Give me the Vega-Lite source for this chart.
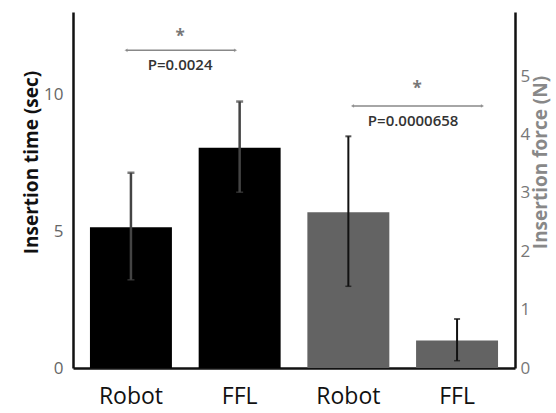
{
  "$schema": "https://vega.github.io/schema/vega-lite/v6.json",
  "width": 442,
  "height": 356,
  "autosize": "none",
  "padding": {"left": 73, "top": 12, "right": 41, "bottom": 45},
  "config": {
    "view": {"stroke": null},
    "font": "Open Sans",
    "axis": {"grid": false, "ticks": false, "domainColor": "#111", "domainWidth": 2.5}
  },
  "datasets": {
    "bars": [
      {"key": "time|Robot", "group": "time", "mean": 5.14, "lo": 3.22, "hi": 7.13},
      {"key": "time|FFL", "group": "time", "mean": 8.04, "lo": 6.42, "hi": 9.73},
      {"key": "force|Robot", "group": "force", "mean": 2.67, "lo": 1.4, "hi": 3.97},
      {"key": "force|FFL", "group": "force", "mean": 0.47, "lo": 0.125, "hi": 0.84}
    ],
    "sigTime": [{"from": "time|Robot", "to": "time|FFL", "y": 11.6, "star": 12.1, "py": 11.05, "p": "P=0.0024"}],
    "sigForce": [{"from": "force|Robot", "to": "force|FFL", "y": 4.49, "star": 4.78, "py": 4.24, "p": "P=0.0000658"}]
  },
  "encoding": {
    "x": {
      "field": "key",
      "type": "nominal",
      "scale": {"domain": ["time|Robot", "time|FFL", "force|Robot", "force|FFL"], "paddingInner": 0.246, "paddingOuter": 0.156},
      "axis": {"title": null, "labelAngle": 0, "labelExpr": "split(datum.value,'|')[1]", "labelFontSize": 23, "labelColor": "#111", "labelPadding": 17}
    }
  },
  "layer": [
    {
      "encoding": {
        "y": {
          "type": "quantitative",
          "scale": {"domain": [0, 13], "nice": false},
          "axis": {"title": "Insertion time (sec)", "values": [0, 5, 10], "titleFontSize": 19, "titleFontWeight": "bold", "titleColor": "#111", "titleX": -42, "titleY": 150, "titleBaseline": "middle", "titleAlign": "center", "labelFontSize": 17, "labelColor": "#666", "labelPadding": 10}
        }
      },
      "layer": [
        {
          "data": {"name": "bars"},
          "transform": [{"filter": "datum.group == 'time'"}],
          "mark": {"type": "bar", "color": "#000"},
          "encoding": {"y": {"field": "mean", "type": "quantitative"}}
        },
        {
          "data": {"name": "bars"},
          "transform": [{"filter": "datum.group == 'time'"}],
          "mark": {"type": "rule", "color": "#444", "strokeWidth": 2.5},
          "encoding": {"y": {"field": "lo", "type": "quantitative"}, "y2": {"field": "hi"}}
        },
        {
          "data": {"name": "bars"},
          "transform": [{"filter": "datum.group == 'time'"}],
          "mark": {"type": "tick", "color": "#444", "size": 7, "thickness": 2.5},
          "encoding": {"y": {"field": "hi", "type": "quantitative"}}
        },
        {
          "data": {"name": "bars"},
          "transform": [{"filter": "datum.group == 'time'"}],
          "mark": {"type": "tick", "color": "#444", "size": 7, "thickness": 1.5},
          "encoding": {"y": {"field": "lo", "type": "quantitative"}}
        },
        {
          "data": {"name": "sigTime"},
          "mark": {"type": "rule", "color": "#888", "strokeWidth": 1.5},
          "encoding": {
            "x": {"field": "from", "type": "nominal", "bandPosition": 0.44},
            "x2": {"field": "to", "bandPosition": 0.45},
            "y": {"field": "y", "type": "quantitative"}
          }
        },
        {
          "data": {"name": "sigTime"},
          "mark": {"type": "point", "shape": "triangle-left", "filled": true, "color": "#888", "size": 14},
          "encoding": {
            "x": {"field": "from", "type": "nominal", "bandPosition": 0.44},
            "y": {"field": "y", "type": "quantitative"}
          }
        },
        {
          "data": {"name": "sigTime"},
          "mark": {"type": "point", "shape": "triangle-right", "filled": true, "color": "#888", "size": 14},
          "encoding": {
            "x": {"field": "to", "type": "nominal", "bandPosition": 0.45},
            "y": {"field": "y", "type": "quantitative"}
          }
        },
        {
          "data": {"name": "sigTime"},
          "mark": {"type": "text", "text": "*", "color": "#777", "fontSize": 17, "fontWeight": "bold", "baseline": "middle"},
          "encoding": {
            "x": {"field": "from", "type": "nominal", "bandPosition": 1.1},
            "y": {"field": "star", "type": "quantitative"}
          }
        },
        {
          "data": {"name": "sigTime"},
          "mark": {"type": "text", "color": "#333", "fontSize": 15, "fontWeight": 600, "baseline": "middle"},
          "encoding": {
            "x": {"field": "from", "type": "nominal", "bandPosition": 1.1},
            "y": {"field": "py", "type": "quantitative"},
            "text": {"field": "p"}
          }
        }
      ]
    },
    {
      "encoding": {
        "y": {
          "type": "quantitative",
          "scale": {"domain": [0, 6.1], "nice": false},
          "axis": {"orient": "right", "title": "Insertion force (N)", "values": [0, 1, 2, 3, 4, 5], "titleAngle": -90, "titleFontSize": 19, "titleFontWeight": "bold", "titleColor": "#888", "titleX": 25, "titleY": 150, "titleBaseline": "middle", "titleAlign": "center", "labelFontSize": 17, "labelColor": "#777", "labelPadding": 5}
        }
      },
      "layer": [
        {
          "data": {"name": "bars"},
          "transform": [{"filter": "datum.group == 'force'"}],
          "mark": {"type": "bar", "color": "#636363"},
          "encoding": {"y": {"field": "mean", "type": "quantitative"}}
        },
        {
          "data": {"name": "bars"},
          "transform": [{"filter": "datum.group == 'force'"}],
          "mark": {"type": "rule", "color": "#111", "strokeWidth": 2},
          "encoding": {"y": {"field": "lo", "type": "quantitative"}, "y2": {"field": "hi"}}
        },
        {
          "data": {"name": "bars"},
          "transform": [{"filter": "datum.group == 'force'"}],
          "mark": {"type": "tick", "color": "#111", "size": 6, "thickness": 2},
          "encoding": {"y": {"field": "hi", "type": "quantitative"}}
        },
        {
          "data": {"name": "bars"},
          "transform": [{"filter": "datum.group == 'force'"}],
          "mark": {"type": "tick", "color": "#111", "size": 6, "thickness": 1.5},
          "encoding": {"y": {"field": "lo", "type": "quantitative"}}
        },
        {
          "data": {"name": "sigForce"},
          "mark": {"type": "rule", "color": "#888", "strokeWidth": 1.5},
          "encoding": {
            "x": {"field": "from", "type": "nominal", "bandPosition": 0.55},
            "x2": {"field": "to", "bandPosition": 0.81},
            "y": {"field": "y", "type": "quantitative"}
          }
        },
        {
          "data": {"name": "sigForce"},
          "mark": {"type": "point", "shape": "triangle-left", "filled": true, "color": "#888", "size": 14},
          "encoding": {
            "x": {"field": "from", "type": "nominal", "bandPosition": 0.55},
            "y": {"field": "y", "type": "quantitative"}
          }
        },
        {
          "data": {"name": "sigForce"},
          "mark": {"type": "point", "shape": "triangle-right", "filled": true, "color": "#888", "size": 14},
          "encoding": {
            "x": {"field": "to", "type": "nominal", "bandPosition": 0.81},
            "y": {"field": "y", "type": "quantitative"}
          }
        },
        {
          "data": {"name": "sigForce"},
          "mark": {"type": "text", "text": "*", "color": "#777", "fontSize": 17, "fontWeight": "bold", "baseline": "middle"},
          "encoding": {
            "x": {"field": "from", "type": "nominal", "bandPosition": 1.34},
            "y": {"field": "star", "type": "quantitative"}
          }
        },
        {
          "data": {"name": "sigForce"},
          "mark": {"type": "text", "color": "#333", "fontSize": 15, "fontWeight": 600, "baseline": "middle"},
          "encoding": {
            "x": {"field": "from", "type": "nominal", "bandPosition": 1.29},
            "y": {"field": "py", "type": "quantitative"},
            "text": {"field": "p"}
          }
        }
      ]
    }
  ],
  "resolve": {"scale": {"y": "independent"}, "axis": {"y": "independent"}}
}
